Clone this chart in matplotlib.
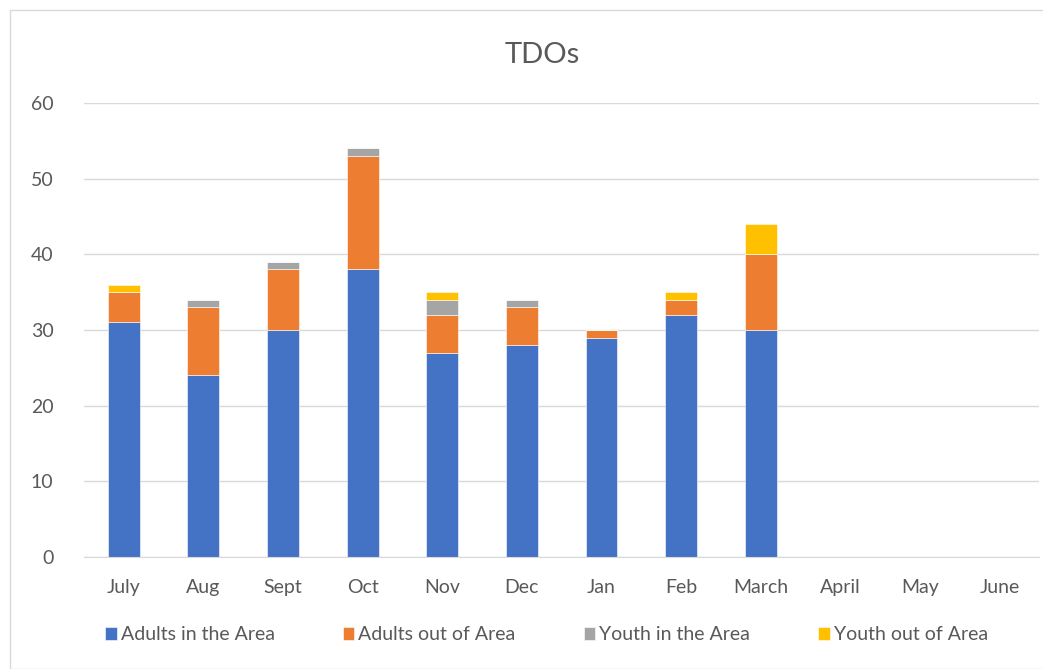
import numpy as np
import matplotlib.pyplot as plt
from matplotlib.patches import Rectangle

months = ['July', 'Aug', 'Sept', 'Oct', 'Nov', 'Dec', 'Jan', 'Feb', 'March', 'April', 'May', 'June']
adults_in = [31, 24, 30, 38, 27, 28, 29, 32, 30, 0, 0, 0]
adults_out = [4, 9, 8, 15, 5, 5, 1, 2, 10, 0, 0, 0]
youth_in = [0, 1, 1, 1, 2, 1, 0, 0, 0, 0, 0, 0]
youth_out = [1, 0, 0, 0, 1, 0, 0, 1, 4, 0, 0, 0]

series = [('Adults in the Area', adults_in, '#4472c4'),
          ('Adults out of Area', adults_out, '#ed7d31'),
          ('Youth in the Area', youth_in, '#a5a5a5'),
          ('Youth out of Area', youth_out, '#ffc000')]

plt.rcParams['font.family'] = ['Lato', 'DejaVu Sans']
txt = '#595959'

fig = plt.figure(figsize=(10.43, 6.69), dpi=100)
fig.patches.append(Rectangle((10 / 1043, 0), 1.1, 1 - 10 / 669, transform=fig.transFigure,
                             fill=False, edgecolor='#d9d9d9', linewidth=1))
ax = fig.add_axes([0.0805, 0.1674, 0.916, 0.6786])

x = np.arange(len(months))
bottom = np.zeros(len(months))
handles = []
for name, vals, col in series:
    vals = np.array(vals, dtype=float)
    b = ax.bar(x, vals, 0.4, bottom=bottom, color=col, label=name,
               edgecolor='white', linewidth=0.4)
    handles.append(b)
    bottom += vals

ax.set_ylim(0, 60)
ax.set_xlim(-0.5, len(months) - 0.5)
ax.set_yticks(range(0, 61, 10))
ax.set_xticks(x)
ax.set_xticklabels(months)
ax.yaxis.grid(True, color='#d9d9d9', linewidth=1)
ax.set_axisbelow(True)
for s in ['top', 'right', 'left']:
    ax.spines[s].set_visible(False)
ax.spines['bottom'].set_color('#d9d9d9')
ax.tick_params(axis='both', length=0, labelsize=14, colors=txt)
ax.tick_params(axis='x', pad=16)
ax.tick_params(axis='y', pad=22)

fig.text(0.52, 0.918, 'TDOs', ha='center', va='center', fontsize=21, color=txt)
fig.legend(handles=handles, loc='center', bbox_to_anchor=(0.524, 0.051), ncol=4,
           frameon=False, fontsize=14, labelcolor=txt, handlelength=0.6,
           handleheight=0.6, handletextpad=0.2, columnspacing=3.5)

fig.savefig('out.png', dpi=100)
